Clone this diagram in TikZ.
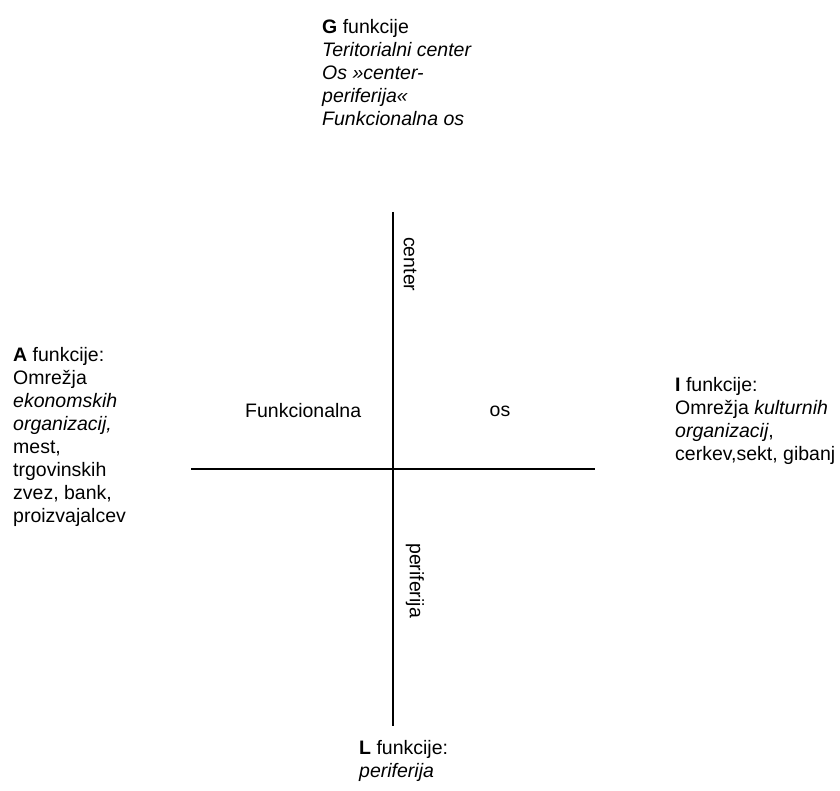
\documentclass[tikz,border=0pt]{standalone}
\usepackage{fontspec}
\setmainfont{Liberation Sans}
\tikzset{
    block/.style={anchor=base west, align=left, inner sep=0pt, font=\fontsize{19.5}{23}\selectfont},
    word/.style={inner sep=0pt, font=\fontsize{19.5}{23}\selectfont}
}
\begin{document}
\begin{tikzpicture}[x=1pt, y=-1pt]
    \useasboundingbox (0,0) rectangle (840,791);
    \coordinate (top) at (393,212);
    \coordinate (bottom) at (393,726);
    \coordinate (left) at (191,469);
    \coordinate (right) at (595,469);
    \draw[line width=2pt] (top) -- (bottom);
    \draw[line width=2pt] (left) -- (right);
    % base anchor sits on the last line
    \node[block] (gfun) at (322,126) {\textbf{G} funkcije\\ \textit{Teritorialni center}\\ \textit{Os »center-}\\ \textit{periferija«}\\ \textit{Funkcionalna os}};
    \node[block] (afun) at (13,522) {\textbf{A} funkcije:\\ Omrežja\\ \textit{ekonomskih}\\ \textit{organizacij,}\\ mest,\\ trgovinskih\\ zvez, bank,\\ proizvajalcev};
    \node[block] (ifun) at (675,460) {\textbf{I} funkcije:\\ Omrežja \textit{kulturnih}\\ \textit{organizacij},\\ cerkev,sekt, gibanj};
    \node[block] (lfun) at (359,777) {\textbf{L} funkcije:\\ \textit{periferija}};
    \node[word, anchor=west] (fname) at (245,411) {Funkcionalna};
    \node[word] (osname) at (500,411) {os};
    \node[word, rotate=-90, anchor=west] (cname) at (410,237) {center};
    \node[word, rotate=-90, anchor=west] (pname) at (415,543) {periferija};
\end{tikzpicture}
\end{document}
